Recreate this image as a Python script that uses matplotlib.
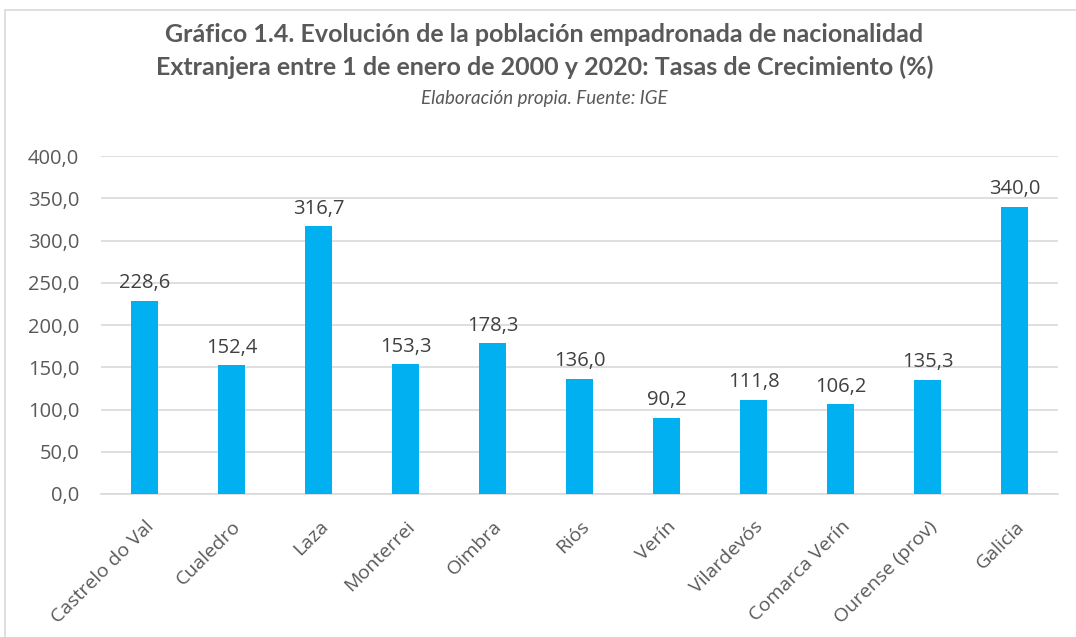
import numpy as np
import matplotlib.pyplot as plt
from matplotlib.patches import Rectangle

categorias = ["Castrelo do Val", "Cualedro", "Laza", "Monterrei", "Oimbra", "Riós",
              "Verín", "Vilardevós", "Comarca Verín", "Ourense (prov)", "Galicia"]
tasas = [228.6, 152.4, 316.7, 153.3, 178.3, 136.0, 90.2, 111.8, 106.2, 135.3, 340.0]
yticks = [0, 50, 100, 150, 200, 250, 300, 350, 400]

azul = "#00B0F0"
gris = "#595959"

plt.rcParams['font.family'] = ['Open Sans', 'DejaVu Sans']

fig = plt.figure(figsize=(10.76, 6.37), dpi=100)
ax = fig.add_axes([0.0943, 0.2245, 0.8894, 0.5305])

x = np.arange(len(categorias))
bars = ax.bar(x, tasas, width=0.31, color=azul, zorder=3)

for xi, v in zip(x, tasas):
    ax.text(xi, v + 9, f"{v:.1f}".replace(".", ","), ha="center", va="bottom",
            fontsize=14.5, color="#404040")

ax.set_xlim(-0.5, len(categorias) - 0.5)
ax.set_ylim(0, 400)
ax.set_yticks(yticks)
ax.set_yticklabels([f"{t:.1f}".replace(".", ",") for t in yticks], fontsize=14.5, color=gris)
ax.set_xticks(x)
ax.set_xticklabels(categorias, rotation=45, ha="right", rotation_mode="anchor",
                   fontsize=14, color=gris)
ax.tick_params(axis="both", length=0)
ax.tick_params(axis="y", pad=16)
ax.tick_params(axis="x", pad=17)
ax.grid(axis="y", color="#D9D9D9", linewidth=1.2, zorder=0)
for s in ["top", "right", "left"]:
    ax.spines[s].set_visible(False)
ax.spines["bottom"].set_color("#D9D9D9")
ax.spines["bottom"].set_linewidth(1.2)

fig.text(0.506, 0.946, "Gráfico 1.4. Evolución de la población empadronada de nacionalidad",
         ha="center", va="center", fontsize=18, fontweight="bold", color=gris, family="Lato")
fig.text(0.506, 0.894, "Extranjera entre 1 de enero de 2000 y 2020: Tasas de Crecimiento (%)",
         ha="center", va="center", fontsize=18, fontweight="bold", color=gris, family="Lato")
fig.text(0.506, 0.846, "Elaboración propia. Fuente: IGE", ha="center", va="center",
         fontsize=13.5, style="italic", color=gris, family="Lato")

fig.patches.append(Rectangle((5 / 1076, -0.01), 1.1, 1 - 10 / 637 + 0.01, transform=fig.transFigure,
                             fill=False, edgecolor="#D9D9D9", linewidth=1.2))

fig.savefig("out.png", dpi=100)
